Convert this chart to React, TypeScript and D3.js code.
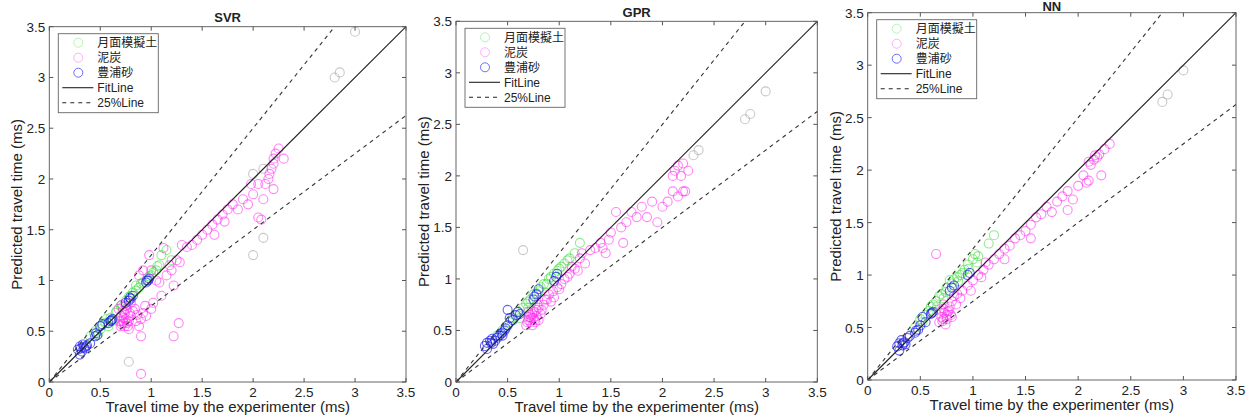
import React from "react";
import * as d3 from "d3";

// ---------- data ----------
const seriesNames = ["月面模擬土", "泥炭", "豊浦砂"];
const lineNames = ["FitLine", "25%Line"];
const panelTitles = ["SVR", "GPR", "NN"];
const tickValues = [0, 0.5, 1, 1.5, 2, 2.5, 3, 3.5];
const xLabel = "Travel time by the experimenter (ms)";
const yLabel = "Predicted travel time (ms)";

type P = [number, number];

const svrLunar: P[] = [
  [0.4, 0.45], [0.45, 0.5], [0.5, 0.52], [0.55, 0.58], [0.6, 0.63], [0.65, 0.68], [0.7, 0.75],
  [0.75, 0.8], [0.8, 0.85], [0.85, 0.9], [0.88, 0.93], [0.9, 0.97], [0.95, 1.0], [1.0, 1.05],
  [1.05, 1.1], [1.08, 1.15], [1.1, 1.25], [1.15, 1.3], [0.85, 0.95], [1.2, 1.2], [0.62, 0.6],
  [0.48, 0.47], [0.58, 0.55], [0.52, 0.56], [0.66, 0.7], [0.72, 0.74], [0.78, 0.84], [0.82, 0.88],
  [0.92, 0.98], [0.98, 1.04], [1.02, 1.08], [1.06, 1.14], [0.56, 0.62], [0.44, 0.48],
];
const svrPeat: P[] = [
  [0.7, 0.55], [0.72, 0.6], [0.73, 0.58], [0.75, 0.62], [0.7, 0.65], [0.72, 0.7], [0.75, 0.75],
  [0.68, 0.72], [0.74, 0.55], [0.78, 0.6], [0.8, 0.65], [0.82, 0.7], [0.85, 0.6], [0.88, 0.55],
  [0.9, 0.62], [0.92, 0.68], [0.95, 0.65], [1.0, 0.72], [1.02, 0.78], [0.9, 0.45], [0.88, 1.05],
  [0.92, 1.1], [0.98, 1.25], [1.0, 1.1], [1.05, 1.0], [1.1, 0.85], [1.12, 1.32], [1.15, 1.05],
  [1.2, 1.1], [1.22, 0.95], [1.25, 1.2], [1.28, 1.18], [1.3, 1.35], [1.22, 0.45], [1.27, 0.58],
  [0.9, 0.08], [1.4, 1.35], [1.45, 1.4], [1.5, 1.45], [1.55, 1.5], [1.6, 1.55], [1.65, 1.6],
  [1.7, 1.65], [1.75, 1.7], [1.8, 1.75], [1.85, 1.7], [1.9, 1.8], [1.95, 1.75], [2.0, 1.85],
  [2.05, 1.95], [2.1, 1.8], [2.15, 2.0], [2.18, 2.1], [2.2, 2.15], [2.22, 2.25], [2.25, 2.3],
  [2.2, 1.9], [2.12, 1.95], [2.05, 1.62], [2.3, 2.2], [1.35, 1.33], [1.62, 1.45], [0.76, 0.58],
  [0.78, 0.52], [0.8, 0.78], [0.84, 0.72], [0.71, 0.57], [0.73, 0.63], [0.74, 0.68], [0.76, 0.72],
  [0.69, 0.6], [0.77, 0.55], [0.79, 0.68], [0.71, 0.76], [0.86, 0.66], [0.94, 0.75], [1.08, 0.98],
  [1.18, 1.15], [2.08, 1.6], [2.16, 2.05], [2.2, 2.2], [1.72, 1.58], [1.98, 1.95],
];
const svrToyoura: P[] = [
  [0.28, 0.32], [0.3, 0.35], [0.32, 0.3], [0.33, 0.37], [0.35, 0.33], [0.37, 0.36], [0.4, 0.38],
  [0.45, 0.45], [0.46, 0.48], [0.5, 0.55], [0.52, 0.57], [0.58, 0.58], [0.6, 0.6], [0.62, 0.62],
  [0.75, 0.78], [0.78, 0.8], [0.8, 0.82], [0.82, 0.85], [0.95, 0.98], [0.97, 1.0], [0.98, 1.02],
  [0.3, 0.27], [0.34, 0.34], [0.31, 0.33], [0.36, 0.35], [0.47, 0.46], [0.61, 0.61], [0.79, 0.83],
  [0.96, 1.0],
];
const svrFaint: P[] = [
  [2.8, 3.0], [3.0, 3.45], [2.85, 3.05], [2.1, 1.42], [2.0, 1.25], [2.1, 2.1], [2.0, 2.05],
  [0.78, 0.2],
];

const gprLunar: P[] = [
  [0.4, 0.45], [0.5, 0.55], [0.55, 0.62], [0.6, 0.68], [0.65, 0.72], [0.7, 0.78], [0.75, 0.85],
  [0.8, 0.88], [0.85, 0.95], [0.9, 1.0], [0.95, 1.05], [1.0, 1.1], [1.05, 1.15], [1.1, 1.2],
  [1.15, 1.25], [1.2, 1.35], [0.88, 0.95], [0.7, 0.72], [0.62, 0.62], [0.45, 0.5], [0.52, 0.58],
  [0.58, 0.64], [0.68, 0.76], [0.72, 0.8], [0.78, 0.86], [0.82, 0.92], [0.92, 1.02], [0.98, 1.08],
  [1.02, 1.12], [1.08, 1.18],
];
const gprPeat: P[] = [
  [0.68, 0.55], [0.7, 0.6], [0.72, 0.58], [0.75, 0.62], [0.72, 0.65], [0.76, 0.68], [0.78, 0.7],
  [0.8, 0.72], [0.7, 0.68], [0.74, 0.55], [0.8, 0.6], [0.85, 0.75], [0.88, 0.8], [0.9, 0.85],
  [0.92, 0.78], [0.95, 0.82], [1.0, 0.9], [1.05, 1.0], [1.1, 1.05], [1.15, 1.1], [1.2, 1.2],
  [1.22, 1.25], [1.25, 1.15], [1.3, 1.28], [1.35, 1.3], [1.4, 1.35], [1.45, 1.25], [1.5, 1.45],
  [1.55, 1.65], [1.6, 1.5], [1.62, 1.35], [1.65, 1.55], [1.7, 1.65], [1.75, 1.6], [1.8, 1.7],
  [1.85, 1.6], [1.9, 1.75], [1.95, 1.55], [2.0, 1.7], [2.05, 1.75], [2.1, 1.85], [2.15, 1.8],
  [2.2, 1.85], [2.12, 2.05], [2.15, 2.1], [2.18, 2.0], [2.2, 2.12], [2.1, 2.0], [2.25, 2.05],
  [2.22, 1.85], [1.42, 1.3], [1.48, 1.38], [0.73, 0.62], [0.77, 0.58], [0.82, 0.66], [0.71, 0.63],
  [0.74, 0.66], [0.76, 0.6], [0.78, 0.64], [0.69, 0.58], [0.79, 0.75], [0.83, 0.7], [0.86, 0.8],
  [0.94, 0.88], [0.98, 0.92], [1.02, 0.95], [1.08, 1.02], [1.12, 1.12], [1.18, 1.08],
];
const gprToyoura: P[] = [
  [0.28, 0.35], [0.3, 0.38], [0.33, 0.4], [0.35, 0.42], [0.36, 0.37], [0.38, 0.4], [0.4, 0.43],
  [0.42, 0.45], [0.45, 0.48], [0.47, 0.5], [0.5, 0.55], [0.5, 0.7], [0.55, 0.6], [0.58, 0.65],
  [0.6, 0.68], [0.62, 0.66], [0.75, 0.8], [0.78, 0.85], [0.8, 0.9], [0.95, 0.98], [0.97, 1.02],
  [0.98, 1.05], [0.3, 0.32], [0.45, 0.45], [0.52, 0.62], [0.34, 0.38], [0.44, 0.47], [0.48, 0.52],
  [0.76, 0.83],
];
const gprFaint: P[] = [
  [0.65, 1.28], [2.8, 2.55], [2.85, 2.6], [3.0, 2.82], [2.3, 2.2], [2.35, 2.25],
];

const nnLunar: P[] = [
  [0.45, 0.5], [0.5, 0.58], [0.55, 0.62], [0.6, 0.7], [0.65, 0.75], [0.7, 0.82], [0.75, 0.88],
  [0.8, 0.92], [0.85, 0.98], [0.9, 1.02], [0.95, 1.1], [1.0, 1.15], [1.05, 1.18], [0.88, 1.0],
  [0.92, 1.05], [0.72, 0.78], [1.2, 1.38], [1.15, 1.3], [0.78, 0.95], [1.02, 1.2], [0.68, 0.8],
  [0.52, 0.55], [0.58, 0.66], [0.62, 0.72], [0.74, 0.84], [0.82, 0.96], [0.86, 0.94], [0.96, 1.06],
  [1.04, 1.12], [0.66, 0.7],
];
const nnPeat: P[] = [
  [0.65, 1.2], [0.68, 0.55], [0.7, 0.6], [0.72, 0.58], [0.75, 0.62], [0.72, 0.68], [0.78, 0.7],
  [0.8, 0.75], [0.74, 0.53], [0.82, 0.8], [0.85, 0.82], [0.9, 0.85], [0.95, 0.9], [1.0, 0.95],
  [1.05, 1.0], [1.1, 1.05], [1.15, 1.1], [1.2, 1.15], [1.25, 1.2], [1.3, 1.25], [1.35, 1.28],
  [1.4, 1.35], [1.45, 1.38], [1.5, 1.42], [1.55, 1.48], [1.6, 1.55], [1.65, 1.58], [1.7, 1.65],
  [1.75, 1.6], [1.8, 1.7], [1.85, 1.75], [1.9, 1.8], [1.95, 1.72], [2.0, 1.85], [2.05, 1.95],
  [2.1, 1.9], [2.12, 2.05], [2.15, 2.1], [2.18, 2.12], [2.2, 2.15], [2.22, 1.95], [2.25, 2.2],
  [2.3, 2.25], [1.3, 1.15], [1.55, 1.35], [1.9, 1.62], [0.76, 0.65], [0.8, 0.6], [0.72, 0.72],
  [0.71, 0.56], [0.73, 0.64], [0.75, 0.58], [0.77, 0.66], [0.79, 0.62], [0.7, 0.66], [0.84, 0.72],
  [0.88, 0.78], [0.98, 0.85], [1.08, 0.98], [1.12, 1.12], [2.1, 2.08], [2.16, 2.14], [2.08, 1.88],
];
const nnToyoura: P[] = [
  [0.28, 0.32], [0.3, 0.35], [0.32, 0.38], [0.33, 0.33], [0.35, 0.36], [0.38, 0.4], [0.4, 0.42],
  [0.45, 0.45], [0.48, 0.48], [0.5, 0.52], [0.52, 0.6], [0.55, 0.55], [0.6, 0.63], [0.62, 0.65],
  [0.78, 0.85], [0.8, 0.88], [0.82, 0.9], [0.95, 1.0], [0.97, 1.02], [0.3, 0.28], [0.34, 0.35],
  [0.36, 0.34], [0.46, 0.47], [0.61, 0.64],
];
const nnFaint: P[] = [[2.8, 2.65], [2.85, 2.72], [3.0, 2.95]];

// ---------- styles ----------
const COLORS = ["#33dd33", "#ff22ee", "#1111ee"];
const FAINT = "#b0b0b0";
const FONT = "'Liberation Sans', Arial, Helvetica, sans-serif";
const CJK = "'Noto Sans CJK JP', 'Noto Sans CJK SC', sans-serif";

interface PanelProps {
  title: string;
  left: number;
  top: number;
  w: number;
  h: number;
  titleY: number;
  lunar: P[];
  peat: P[];
  toyoura: P[];
  faint: P[];
}

function Panel({ title, left, top, w, h, titleY, lunar, peat, toyoura, faint }: PanelProps) {
  const x = d3.scaleLinear().domain([0, 3.5]).range([left, left + w]);
  const y = d3.scaleLinear().domain([0, 3.5]).range([top + h, top]);
  const line = d3.line<P>().x((d) => x(d[0])).y((d) => y(d[1]));
  const fit: P[] = [[0, 0], [3.5, 3.5]];
  const up: P[] = [[0, 0], [3.5 / 1.25, 3.5]];
  const lo: P[] = [[0, 0], [3.5, 3.5 * 0.75]];
  const tl = 4;
  const r = 4.5;
  const lx = left + 9;
  const ly = top + 7;
  const rows = [9, 24, 39, 54, 69];
  const circles = (pts: P[], color: string, op: number, key: string) =>
    pts.map((p, i) => (
      <circle key={key + i} cx={x(p[0])} cy={y(p[1])} r={r} fill="none" stroke={color} strokeOpacity={op} strokeWidth={1.1} />
    ));
  return (
    <g>
      <rect x={left} y={top} width={w} height={h} fill="#fff" stroke="none" />
      {circles(faint, FAINT, 0.7, "f")}
      {circles(lunar, COLORS[0], 0.55, "l")}
      {circles(peat, COLORS[1], 0.55, "p")}
      {circles(toyoura, COLORS[2], 0.65, "t")}
      <path d={line(fit)!} stroke="#222" strokeWidth={1.1} fill="none" />
      <path d={line(up)!} stroke="#333" strokeWidth={1.1} strokeDasharray="4,4" fill="none" />
      <path d={line(lo)!} stroke="#333" strokeWidth={1.1} strokeDasharray="4,4" fill="none" />
      <rect x={left} y={top} width={w} height={h} fill="none" stroke="#555" strokeWidth={0.9} />
      {tickValues.map((t) => (
        <g key={"t" + t}>
          <line x1={x(t)} x2={x(t)} y1={top + h} y2={top + h - tl} stroke="#555" />
          <line x1={x(t)} x2={x(t)} y1={top} y2={top + tl} stroke="#555" />
          <line x1={left} x2={left + tl} y1={y(t)} y2={y(t)} stroke="#555" />
          <line x1={left + w} x2={left + w - tl} y1={y(t)} y2={y(t)} stroke="#555" />
          <text x={x(t)} y={top + h + 15} textAnchor="middle" fontSize={13.5} fill="#222" fontFamily={FONT}>
            {t}
          </text>
          <text x={left - 4} y={y(t) + 5} textAnchor="end" fontSize={13.5} fill="#222" fontFamily={FONT}>
            {t}
          </text>
        </g>
      ))}
      <text x={left + w / 2} y={top + h + 30} textAnchor="middle" fontSize={15} fill="#222" fontFamily={FONT}>
        {xLabel}
      </text>
      <text
        transform={`translate(${left - 27},${top + h / 2}) rotate(-90)`}
        textAnchor="middle"
        fontSize={15}
        fill="#222"
        fontFamily={FONT}
      >
        {yLabel}
      </text>
      <text x={left + w / 2} y={titleY} textAnchor="middle" fontSize={13} fontWeight="bold" fill="#222" fontFamily={FONT}>
        {title}
      </text>
      {/* legend */}
      <rect x={lx} y={ly} width={100} height={79} fill="#fff" stroke="#666" strokeWidth={0.9} />
      {seriesNames.map((s, i) => (
        <g key={s}>
          <circle cx={lx + 20} cy={ly + rows[i]} r={r} fill="none" stroke={COLORS[i]} strokeOpacity={i === 2 ? 0.6 : 0.35} />
          <text x={lx + 39} y={ly + rows[i] + 4.5} fontSize={12} fill="#222" fontFamily={CJK}>
            {s}
          </text>
        </g>
      ))}
      {lineNames.map((s, i) => (
        <g key={s}>
          <line
            x1={lx + 4}
            x2={lx + 35}
            y1={ly + rows[3 + i]}
            y2={ly + rows[3 + i]}
            stroke="#222"
            strokeWidth={1.1}
            strokeDasharray={i === 1 ? "4,4" : undefined}
          />
          <text x={lx + 39} y={ly + rows[3 + i] + 4.5} fontSize={12} fill="#222" fontFamily={FONT}>
            {s}
          </text>
        </g>
      ))}
    </g>
  );
}

export default function App() {
  return (
    <svg width={1254} height={418} style={{ position: "absolute", left: 0, top: 0, background: "#fff" }}>
      <rect width={1254} height={418} fill="#fff" />
      <Panel title={panelTitles[0]} left={49.3} top={26.7} w={356.7} h={355.3} titleY={22}
        lunar={svrLunar} peat={svrPeat} toyoura={svrToyoura} faint={svrFaint} />
      <Panel title={panelTitles[1]} left={456} top={21.3} w={361.3} h={360.7} titleY={17}
        lunar={gprLunar} peat={gprPeat} toyoura={gprToyoura} faint={gprFaint} />
      <Panel title={panelTitles[2]} left={867.7} top={12.7} w={368.3} h={367.3} titleY={11}
        lunar={nnLunar} peat={nnPeat} toyoura={nnToyoura} faint={nnFaint} />
    </svg>
  );
}
